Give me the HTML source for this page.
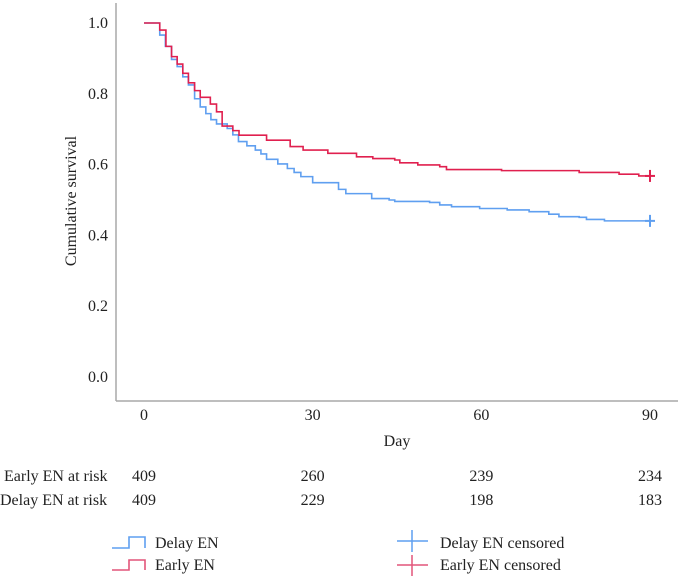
<!DOCTYPE html>
<html><head><meta charset="utf-8"><style>
html,body{margin:0;padding:0;background:#fff}
svg{display:block;font-family:"Liberation Serif",serif}
</style></head><body>
<svg id="chart" width="678" height="576" viewBox="0 0 678 576" xmlns="http://www.w3.org/2000/svg">
<g id="axes"></g>
<g id="series"></g>
<g id="table"></g>
<g id="legend"></g>
</svg>
<script>
const xTicks = [0, 30, 60, 90];
const yTicks = [0.0, 0.2, 0.4, 0.6, 0.8, 1.0];
const earlyDays = [0, 2.8, 3.9, 4.9, 5.9, 6.9, 7.9, 9, 10, 11.8, 12.9, 13.9, 15.8, 16.9, 21.8, 26, 28.3, 32.7, 37.8, 40.7, 44.6, 45.5, 48.7, 52.6, 53.8, 63.6, 77.4, 84.5, 88];
const earlySurv = [1.0, 0.98, 0.934, 0.905, 0.884, 0.858, 0.831, 0.809, 0.79, 0.771, 0.749, 0.709, 0.696, 0.683, 0.669, 0.651, 0.641, 0.632, 0.622, 0.617, 0.613, 0.605, 0.599, 0.594, 0.586, 0.583, 0.578, 0.573, 0.568];
const delayDays = [0, 2.8, 3.8, 4.9, 5.9, 6.9, 7.9, 9, 10, 11, 11.9, 12.9, 14.8, 15.8, 16.8, 18.3, 19.8, 20.8, 21.8, 23.8, 25.5, 26.7, 27.9, 30, 34.6, 35.9, 40.5, 43.6, 44.6, 50.8, 52.6, 54.7, 59.7, 64.6, 68.5, 72, 73.8, 77.4, 78.7, 81.9];
const delaySurv = [1.0, 0.966, 0.934, 0.897, 0.877, 0.848, 0.825, 0.786, 0.763, 0.744, 0.727, 0.715, 0.702, 0.684, 0.665, 0.653, 0.641, 0.63, 0.615, 0.602, 0.589, 0.578, 0.566, 0.549, 0.53, 0.518, 0.504, 0.5, 0.496, 0.493, 0.486, 0.481, 0.476, 0.472, 0.467, 0.46, 0.453, 0.451, 0.445, 0.441];
const endDay = 90;
const earlyCensor = 0.568;
const delayCensor = 0.441;
const riskDays = [0, 30, 60, 90];
const earlyRisk = [409, 260, 239, 234];
const delayRisk = [409, 229, 198, 183];

const NS = "http://www.w3.org/2000/svg";
const xs = d => 144 + d * (650 - 144) / 90;
const ys = v => 377 - v * 354;
function mk(tag, attrs, parent, text) {
  const e = document.createElementNS(NS, tag);
  for (const k in attrs) e.setAttribute(k, attrs[k]);
  if (text !== undefined) e.textContent = text;
  parent.appendChild(e);
  return e;
}
const axes = document.getElementById('axes');
let el = mk('line', {x1:116, y1:3, x2:116, y2:401, stroke:'#a8a8a8', 'stroke-width':1.5}, axes);


el = mk('line', {x1:116, y1:401, x2:678, y2:401, stroke:'#a8a8a8', 'stroke-width':1.5}, axes);


yTicks.forEach(v => {
  const t = mk('text', {x:108, y:ys(v) + 5, 'text-anchor':'end', 'font-size':16, fill:'#222'}, axes, v.toFixed(1));
  
  
});
xTicks.forEach(v => {
  const t = mk('text', {x:xs(v), y:420, 'text-anchor':'middle', 'font-size':16, fill:'#222'}, axes, String(v));
  
  
});
el = mk('text', {x:0, y:0, transform:'translate(76,201) rotate(-90)', 'text-anchor':'middle', 'font-size':16, fill:'#222'}, axes, 'Cumulative survival');


el = mk('text', {x:397, y:446, 'text-anchor':'middle', 'font-size':16, fill:'#222'}, axes, 'Day');



function stepPath(days, surv) {
  let d = 'M' + xs(days[0]) + ' ' + ys(surv[0]);
  for (let i = 1; i < days.length; i++) {
    d += ' H' + xs(days[i]) + ' V' + ys(surv[i]);
  }
  d += ' H' + xs(endDay);
  return d;
}
const series = document.getElementById('series');
el = mk('path', {d:stepPath(delayDays, delaySurv), fill:'none', stroke:'#5f9ff0', 'stroke-width':1.6}, series);


el = mk('path', {d:stepPath(earlyDays, earlySurv), fill:'none', stroke:'#e0204f', 'stroke-width':1.6}, series);


function cross(v, color, name) {
  const g = mk('g', {stroke:color, 'stroke-width':2}, series);
  
  
  mk('line', {x1:xs(endDay) - 5, y1:ys(v), x2:xs(endDay) + 5, y2:ys(v)}, g);
  mk('line', {x1:xs(endDay), y1:ys(v) - 6, x2:xs(endDay), y2:ys(v) + 6}, g);
}
cross(delayCensor, '#5f9ff0', 'delay-en-censor-mark');
cross(earlyCensor, '#e0204f', 'early-en-censor-mark');

const table = document.getElementById('table');
el = mk('text', {x:4, y:481, 'font-size':16, fill:'#222'}, table, 'Early EN at risk');


el = mk('text', {x:0, y:505, 'font-size':16, fill:'#222'}, table, 'Delay EN at risk');


riskDays.forEach((d, i) => {
  let t = mk('text', {x:xs(d), y:481, 'text-anchor':'middle', 'font-size':16, fill:'#222'}, table, String(earlyRisk[i]));
  
  
  t = mk('text', {x:xs(d), y:505, 'text-anchor':'middle', 'font-size':16, fill:'#222'}, table, String(delayRisk[i]));
  
  
});
</script>
<svg style="position:absolute;left:0;top:0" width="678" height="576">
<g font-family="Liberation Serif, serif" font-size="16" fill="#222">
<path d="M112 548 H129 V537 H145 V548" fill="none" stroke="#5f9ff0" stroke-width="1.6"/>
<text x="155" y="548">Delay EN</text></g>
<g font-family="Liberation Serif, serif" font-size="16" fill="#222">
<path d="M112 570 H129 V560 H145 V570" fill="none" stroke="#e2557a" stroke-width="1.6"/>
<text x="155" y="570">Early EN</text></g>
<g font-family="Liberation Serif, serif" font-size="16" fill="#222">
<path d="M397 541 H428 M412 530 V552" stroke="#5f9ff0" stroke-width="1.5"/>
<text x="440" y="548">Delay EN censored</text></g>
<g font-family="Liberation Serif, serif" font-size="16" fill="#222">
<path d="M397 565 H428 M412 555 V576" stroke="#e2557a" stroke-width="1.5"/>
<text x="440" y="570">Early EN censored</text></g>
</svg>
</body></html>
